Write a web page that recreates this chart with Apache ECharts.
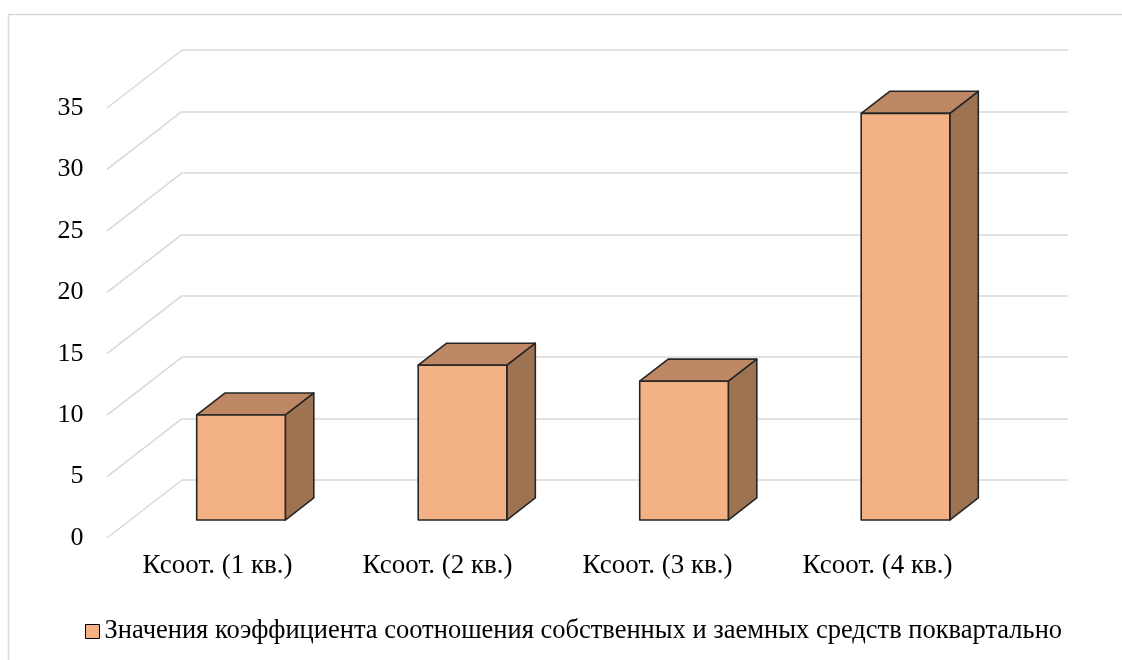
<!DOCTYPE html>
<html><head><meta charset="utf-8">
<script src="https://cdn.jsdelivr.net/npm/echarts@6/dist/echarts.min.js"></script>
<style>html,body{margin:0;padding:0;background:#fff}#c{width:1122px;height:660px}</style>
</head><body><div id="c"></div>
<script>
// ---- data ----
const categories = ['Ксоот. (1 кв.)', 'Ксоот. (2 кв.)', 'Ксоот. (3 кв.)', 'Ксоот. (4 кв.)'];
const values = [8.55, 12.6, 11.3, 33.1];
const yTicks = [0, 5, 10, 15, 20, 25, 30, 35];
const seriesName = 'Значения коэффициента соотношения собственных и заемных средств поквартально';

// ---- styling / geometry ----
const FONT = 'Liberation Serif, Times New Roman, serif';
const DX = 75, DY = 58;          // depth of the floor (back wall -> front edge)
const T_FRONT = 0.69, T_BACK = 0.31; // bar faces as fraction of depth from back wall
const BAR_FRAC = 0.40;
const GRID_COLOR = '#d9d9d9';
const FRONT = '#F4B183', TOP = '#BE8864', SIDE = '#9E7352', EDGE = '#262626';

const chart = echarts.init(document.getElementById('c'), null, {renderer: 'canvas'});

function barItem(params, api) {
  const i = api.value(0), v = api.value(1);
  const base = api.coord([i, 0]);
  const topP = api.coord([i, v]);
  const band = api.size([1, 0])[0];
  const w = band * BAR_FRAC;
  const fx = -DX * T_FRONT, fy = DY * T_FRONT;
  const bx = -DX * T_BACK, by = DY * T_BACK;
  const L = base[0] - w / 2, R = base[0] + w / 2;
  const y0 = base[1], y1 = topP[1];
  const style = {stroke: EDGE, lineWidth: 1.6, lineJoin: 'round'};
  return {
    type: 'group',
    children: [
      {type: 'polygon', shape: {points: [[R + fx, y1 + fy], [R + bx, y1 + by], [R + bx, y0 + by], [R + fx, y0 + fy]]},
        style: Object.assign({fill: SIDE}, style)},
      {type: 'polygon', shape: {points: [[L + fx, y1 + fy], [R + fx, y1 + fy], [R + bx, y1 + by], [L + bx, y1 + by]]},
        style: Object.assign({fill: TOP}, style)},
      {type: 'rect', shape: {x: L + fx, y: y1 + fy, width: w, height: y0 - y1},
        style: Object.assign({fill: FRONT}, style)}
    ]
  };
}

function diagItem(params, api) {
  const v = api.value(1);
  const p = api.coord([0, v]);
  const x = params.coordSys.x;
  return {
    type: 'line',
    shape: {x1: x, y1: p[1], x2: x - DX, y2: p[1] + DY},
    style: {stroke: GRID_COLOR, lineWidth: 1.5}
  };
}

const option = {
  animation: false,
  backgroundColor: '#fff',
  graphic: [{
    type: 'rect', silent: true,
    shape: {x: 8.5, y: 14.5, width: 1300, height: 900},
    style: {fill: 'none', stroke: GRID_COLOR, lineWidth: 1.5}
  }],
  grid: [
    {left: 182, right: 54, top: 50, bottom: 180},      // back wall
    {left: 107.5, right: 134.5, top: 108, bottom: 122}  // front edge of floor
  ],
  xAxis: [
    {gridIndex: 0, type: 'category', data: categories, show: false},
    {gridIndex: 1, type: 'category', data: categories,
      axisLine: {show: false}, axisTick: {show: false},
      axisLabel: {fontFamily: FONT, fontSize: 27, color: '#000', margin: 14, interval: 0}}
  ],
  yAxis: [
    {gridIndex: 0, type: 'value', min: 0, max: 35, interval: 5,
      axisLine: {show: false}, axisTick: {show: false}, axisLabel: {show: false},
      splitLine: {show: true, lineStyle: {color: GRID_COLOR, width: 1.5}}},
    {gridIndex: 1, type: 'value', min: 0, max: 35, interval: 5,
      axisLine: {show: false}, axisTick: {show: false}, splitLine: {show: false},
      axisLabel: {fontFamily: FONT, fontSize: 26, color: '#000', margin: 24}}
  ],
  legend: {
    left: 80, top: 613,
    itemWidth: 14, itemHeight: 14,
    textStyle: {fontFamily: FONT, fontSize: 26.5, color: '#000'},
    data: [{name: seriesName, icon: 'rect', itemStyle: {color: FRONT, borderColor: '#000', borderWidth: 1}}]
  },
  series: [
    {type: 'custom', name: 'grid-diagonals', xAxisIndex: 0, yAxisIndex: 0, silent: true,
      renderItem: diagItem, data: yTicks.map(t => [0, t]), z: 1},
    {type: 'custom', name: seriesName, xAxisIndex: 0, yAxisIndex: 0,
      itemStyle: {color: FRONT, borderColor: '#000', borderWidth: 1},
      renderItem: barItem, data: values.map((v, i) => [i, v]), z: 3}
  ]
};
chart.setOption(option);
</script>
</body></html>
